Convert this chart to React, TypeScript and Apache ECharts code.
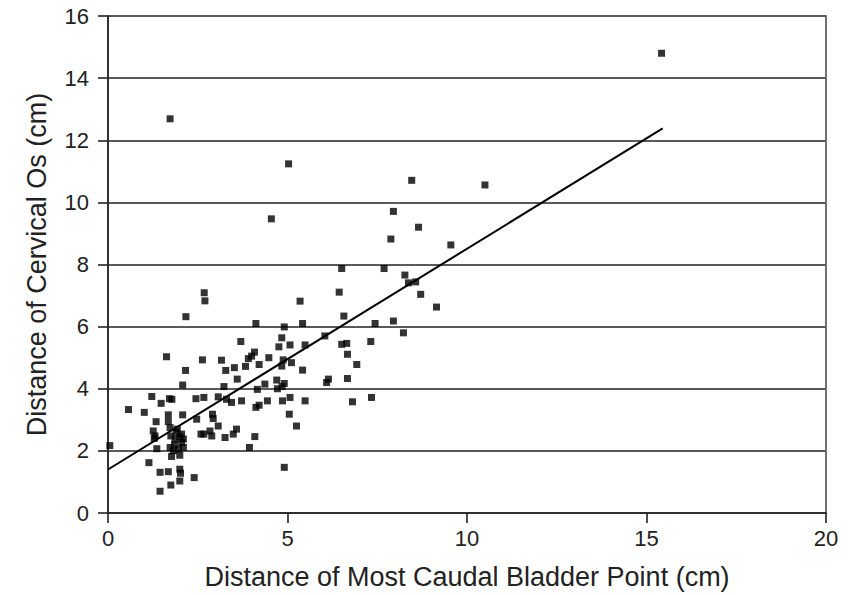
import React, { useEffect, useRef } from "react";
import * as echarts from "echarts";

// Distance of most caudal bladder point (cm)
const bladderX = [
  15.42, 1.73, 5.03, 8.46, 10.5, 7.95, 4.55, 8.65, 7.88, 9.55,
  6.51, 7.69, 8.27, 8.57, 8.37, 8.71, 9.15, 6.44, 5.35, 2.68,
  2.7, 2.17, 6.57, 4.12, 4.91, 5.42, 7.44, 7.95, 8.23, 3.7,
  4.84, 4.76, 5.07, 5.49, 6.04, 6.51, 6.65, 6.67, 6.93, 7.32,
  6.67, 6.14, 6.09, 5.42, 4.88, 4.84, 5.11, 4.48, 4.21, 4.08,
  4.0, 3.91, 2.63, 3.16, 3.28, 3.52, 3.83, 4.7, 4.91, 4.37,
  3.6, 3.23, 4.16, 4.72, 4.85, 2.67, 3.07, 3.3, 3.44, 3.72,
  4.12, 4.21, 4.44, 4.86, 5.07, 5.49, 5.05, 5.25, 6.81, 7.34,
  2.91, 2.93, 3.07, 2.84, 2.67, 2.89, 3.26, 3.49, 3.58, 4.09,
  3.94, 4.91, 2.16, 2.08, 1.63, 1.22, 0.57, 1.01, 1.48, 1.71,
  1.78, 2.45, 2.08, 2.47, 1.34, 1.68, 1.68, 0.05, 1.26, 1.29,
  1.36, 1.73, 1.93, 2.05, 1.75, 1.87, 2.05, 1.73, 1.82, 1.96,
  2.1, 1.77, 2.0, 1.14, 1.45, 1.68, 2.0, 2.02, 2.4, 1.45,
  1.75, 2.0, 2.59, 1.9, 2.0, 1.85, 2.1, 1.31,
];

// Distance of cervical os (cm)
const cervicalY = [
  14.8, 12.69, 11.24, 10.71, 10.56, 9.71, 9.47, 9.2, 8.82, 8.63,
  7.87, 7.87, 7.66, 7.44, 7.41, 7.04, 6.63, 7.11, 6.82, 7.09,
  6.83, 6.32, 6.34, 6.1, 5.99, 6.1, 6.1, 6.18, 5.8, 5.52,
  5.64, 5.35, 5.41, 5.41, 5.7, 5.43, 5.46, 5.11, 4.78, 5.52,
  4.33, 4.31, 4.2, 4.6, 4.93, 4.73, 4.84, 5.0, 4.78, 5.18,
  5.05, 4.97, 4.93, 4.92, 4.59, 4.68, 4.72, 4.28, 4.17, 4.15,
  4.31, 4.07, 3.98, 4.0, 4.07, 3.72, 3.74, 3.66, 3.56, 3.61,
  3.4, 3.47, 3.61, 3.61, 3.72, 3.61, 3.18, 2.8, 3.58, 3.72,
  3.18, 3.04, 2.8, 2.64, 2.54, 2.48, 2.43, 2.54, 2.7, 2.46,
  2.11, 1.47, 4.59, 4.12, 5.03, 3.75, 3.33, 3.24, 3.53, 3.68,
  3.66, 3.68, 3.16, 3.02, 2.94, 3.16, 2.94, 2.17, 2.64, 2.4,
  2.07, 2.75, 2.7, 2.54, 2.48, 2.38, 2.27, 2.11, 2.0, 2.06,
  2.11, 1.82, 1.86, 1.62, 1.31, 1.33, 1.41, 1.28, 1.14, 0.7,
  0.9, 1.03, 2.54, 2.6, 2.45, 2.2, 2.38, 2.48,
];

// Regression line end points
const trendX = [0, 15.45];
const trendY = [1.4, 12.38];

const xTicks = { min: 0, max: 20, interval: 5 };
const yTicks = { min: 0, max: 16, interval: 2 };

const xTitle = "Distance of Most Caudal Bladder Point (cm)";
const yTitle = "Distance of Cervical Os (cm)";

export default function App() {
  const ref = useRef<HTMLDivElement>(null);

  useEffect(() => {
    if (!ref.current) return;
    const chart = echarts.init(ref.current, undefined, { renderer: "svg" });
    const font = "'Liberation Sans', Arial, sans-serif";
    const points = bladderX.map((x, i) => [x, cervicalY[i]]);
    const line = trendX.map((x, i) => [x, trendY[i]]);
    chart.setOption({
      animation: false,
      backgroundColor: "#ffffff",
      grid: {
        left: 108,
        right: 22,
        top: 16,
        bottom: 81,
        show: true,
        borderColor: "#444",
        borderWidth: 1.5,
        backgroundColor: "transparent",
      },
      xAxis: {
        type: "value",
        min: xTicks.min,
        max: xTicks.max,
        interval: xTicks.interval,
        name: xTitle,
        nameLocation: "middle",
        nameGap: 50,
        nameTextStyle: { fontFamily: font, fontSize: 27, color: "#222" },
        axisLine: { show: true, onZero: false, lineStyle: { color: "#222", width: 1.6 } },
        axisTick: { show: true, inside: false, length: 10, lineStyle: { color: "#222", width: 1.6 } },
        axisLabel: { fontFamily: font, fontSize: 22, color: "#222", margin: 14 },
        splitLine: { show: false },
      },
      yAxis: {
        type: "value",
        min: yTicks.min,
        max: yTicks.max,
        interval: yTicks.interval,
        name: yTitle,
        nameLocation: "middle",
        nameGap: 58,
        nameRotate: 90,
        nameTextStyle: { fontFamily: font, fontSize: 27, color: "#222" },
        axisLine: { show: true, onZero: false, lineStyle: { color: "#222", width: 1.6 } },
        axisTick: { show: true, inside: false, length: 10, lineStyle: { color: "#222", width: 1.6 } },
        axisLabel: { fontFamily: font, fontSize: 22, color: "#222", margin: 19 },
        splitLine: { show: true, lineStyle: { color: "#5a5a5a", width: 2 } },
      },
      series: [
        {
          type: "scatter",
          data: points,
          symbol: "rect",
          symbolSize: 7,
          itemStyle: { color: "#000" },
          z: 3,
        },
        {
          type: "line",
          data: line,
          symbol: "none",
          lineStyle: { color: "#000", width: 2 },
          z: 4,
        },
      ],
    });
    return () => chart.dispose();
  }, []);

  return (
    <div
      ref={ref}
      style={{ position: "fixed", left: 0, top: 0, width: 848, height: 595, background: "#fff" }}
    />
  );
}
